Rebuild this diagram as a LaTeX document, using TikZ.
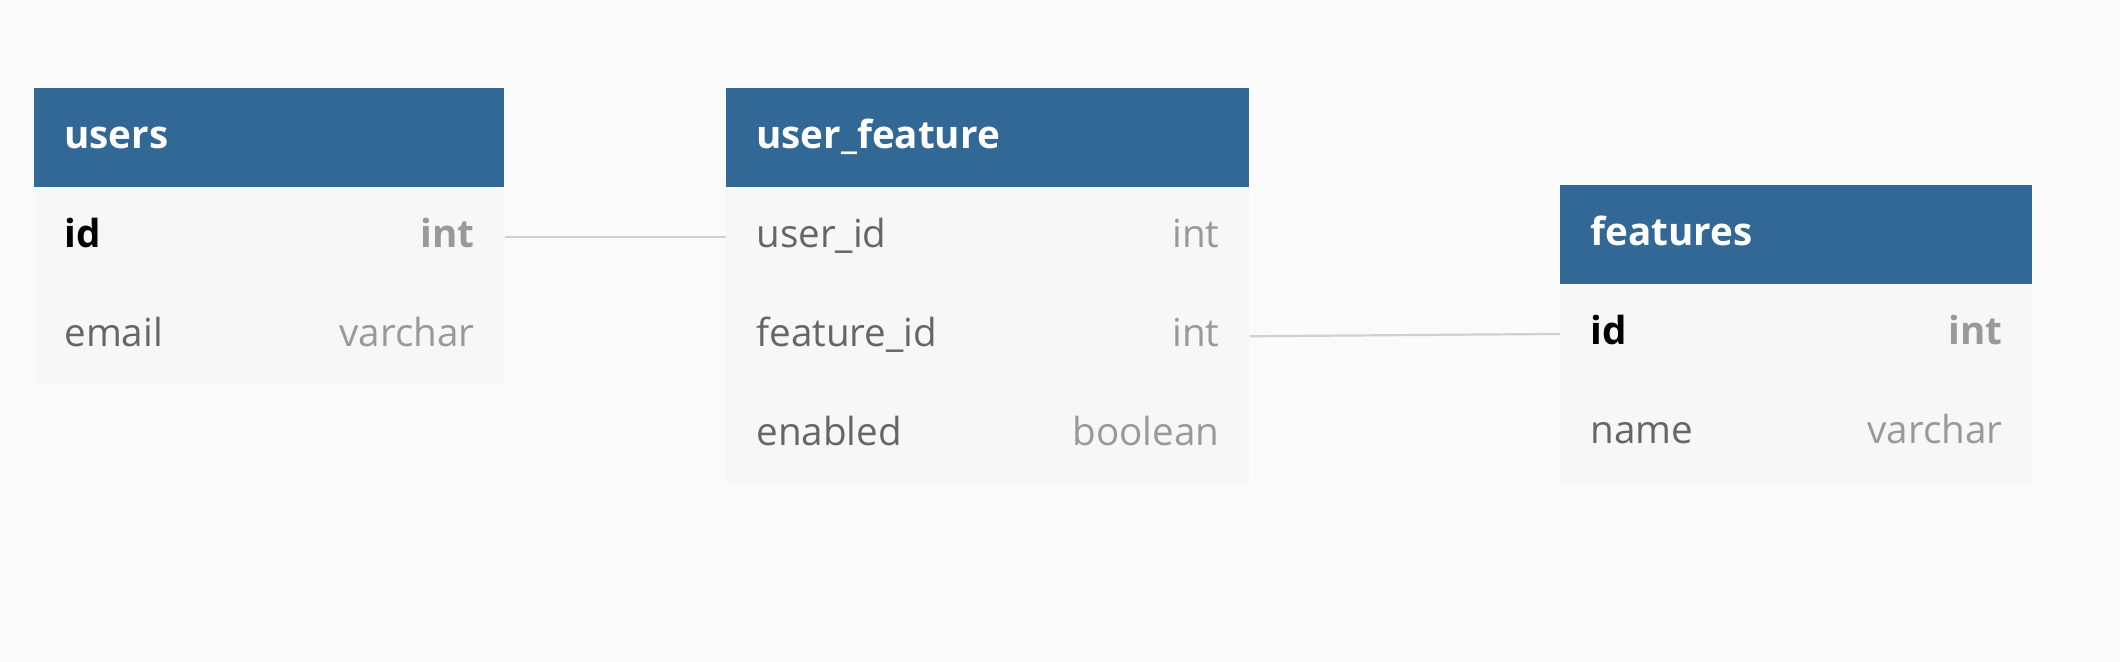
\documentclass[tikz,border=0pt]{standalone}
\usepackage{fontspec}
\setmainfont{Open Sans}
\usetikzlibrary{positioning}

\definecolor{headblue}{HTML}{316896}
\definecolor{rowgray}{HTML}{F7F7F7}
\definecolor{bggray}{HTML}{FAFAFA}
\definecolor{namegray}{HTML}{666666}
\definecolor{typegray}{HTML}{999999}
\definecolor{linkgray}{HTML}{D0D0D0}

\begin{document}
\begin{tikzpicture}[x=0.5pt,y=-0.5pt,node distance=0pt]

    % Define styles
    \tikzstyle{table} = [rectangle, fill=headblue, text=white, font=\fontsize{19.3}{24}\selectfont\bfseries, anchor=north west, align=left, inner xsep=15pt, inner ysep=0pt, text height=16pt, text depth=5.6pt, minimum height=49.25pt]
    \tikzstyle{field} = [rectangle, fill=rowgray, text=namegray, font=\fontsize{19.3}{24}\selectfont, align=left, inner xsep=15pt, inner ysep=0pt, text height=16pt, text depth=5.6pt, minimum height=49.25pt]
    \tikzstyle{link} = [draw=linkgray, line width=1.1pt]

    % Background
    \fill[bggray] (0,0) rectangle (2120,662);
    \useasboundingbox (0,0) rectangle (2120,662);

    % Table users
    \node[table, text width=205pt] (users) at (34,88) {users};
    \node[field, text width=205pt, below=of users] (users-id) {\textbf{\color{black}id}\hfill\textbf{\color{typegray}int}};
    \node[field, text width=205pt, below=of users-id] (users-email) {email\hfill{\color{typegray}varchar}};

    % Table user_feature
    \node[table, text width=231.5pt] (uf) at (726,88) {user\_feature};
    \node[field, text width=231.5pt, below=of uf] (uf-user) {user\_id\hfill{\color{typegray}int}};
    \node[field, text width=231.5pt, below=of uf-user] (uf-feature) {feature\_id\hfill{\color{typegray}int}};
    \node[field, text width=231.5pt, below=of uf-feature] (uf-enabled) {enabled\hfill{\color{typegray}boolean}};

    % Table features
    \node[table, text width=206pt] (features) at (1560,185) {features};
    \node[field, text width=206pt, below=of features] (features-id) {\textbf{\color{black}id}\hfill\textbf{\color{typegray}int}};
    \node[field, text width=206pt, below=of features-id] (features-name) {name\hfill{\color{typegray}varchar}};

    % References
    \draw[link] (users-id.east) -- (uf-user.west);
    \draw[link] (uf-feature.east) -- (features-id.west);

\end{tikzpicture}
\end{document}
